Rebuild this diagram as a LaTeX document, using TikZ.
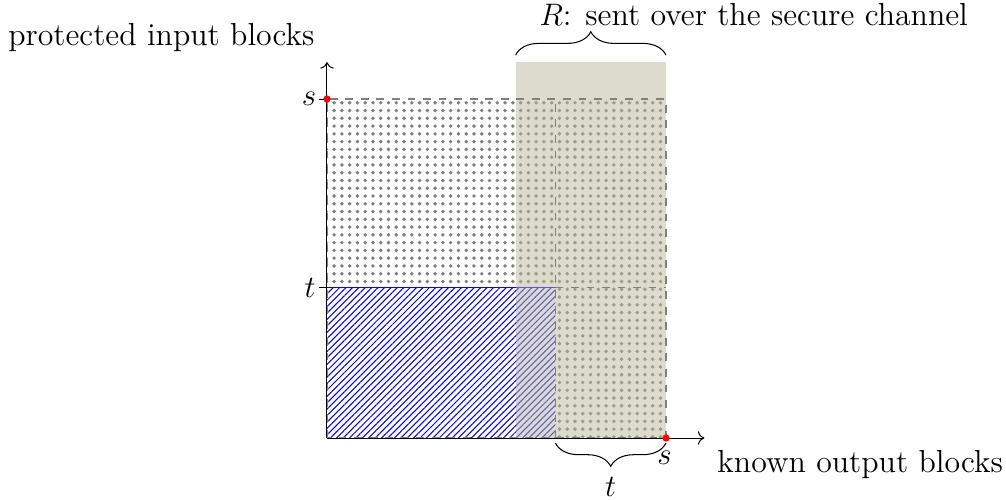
\documentclass[tikz,border=0pt]{standalone}
\usepackage{tikz}
\usetikzlibrary{arrows.meta,patterns.meta,decorations.pathreplacing}
\definecolor{grisSable}{RGB}{187,183,153}
\definecolor{pointRouge}{RGB}{255,0,0}

\begin{document}
\begin{tikzpicture}[font=\fontsize{12.3}{15}\selectfont,
  grille/.style={gray, dashed, line width=0.6pt},
  accolade/.style={decorate, decoration={brace, amplitude=9pt}},
  repere/.style={pointRouge},
  titre/.style={inner sep=0pt}]
\useasboundingbox (-4.437,-0.828) rectangle (9.214,5.944);

% Points du repere
\coordinate (O) at (0,0);
\coordinate (sx) at (4.6,0);
\coordinate (sy) at (0,4.6);
\coordinate (ty) at (0,2.04);
\coordinate (tx) at (3.1,0);
\coordinate (ss) at (4.6,4.6);
\coordinate (tt) at (3.1,2.04);

% Zone pointillee
\fill[pattern={Dots[distance=3pt, radius=0.75pt]}, pattern color=gray] (O) rectangle (ss);
\fill[white] (O) rectangle (tt);
\fill[pattern={Lines[angle=45, distance=1.75pt, line width=0.4pt]}, pattern color=blue] (O) rectangle (tt);
\draw[blue] (ty) -- (tt);

% Zone R
\fill[grisSable, fill opacity=0.5] (2.56,0) rectangle (4.6,5.1);

% Grille
\draw[grille] (O) rectangle (ss);
\draw[grille] (tx) -- (3.1,4.6);
\draw[grille] (tt) -- (4.6,2.04);

% Axes
\draw[->] (O) -- (5.12,0);
\draw[->] (O) -- (0,5.1);
\draw (-0.11,4.6) -- (sy);
\draw (-0.11,2.04) -- (ty);
\node (labSy) at (-0.245,4.6) {$s$};
\node (labTy) at (-0.23,2.04) {$t$};
\node (labSx) at (4.58,-0.27) {$s$};
\fill[repere] (sy) circle (1.4pt);
\fill[repere] (sx) circle (1.4pt);

% Accolades
\draw[accolade] (2.56,5.197) -- (4.6,5.197);
\node[titre, anchor=base west] (canal) at (2.877,5.604) {$R$: sent over the secure channel};
\draw[accolade, decoration={mirror}] (3.1,-0.068) -- (4.6,-0.068);
\node (labTx) at (3.85,-0.665) {$t$};

% Titres des axes
\node[titre, anchor=base east] (entree) at (-0.163,5.333) {protected input blocks};
\node[titre, anchor=base west] (sortie) at (5.292,-0.461) {known output blocks};

\end{tikzpicture}
\end{document}
